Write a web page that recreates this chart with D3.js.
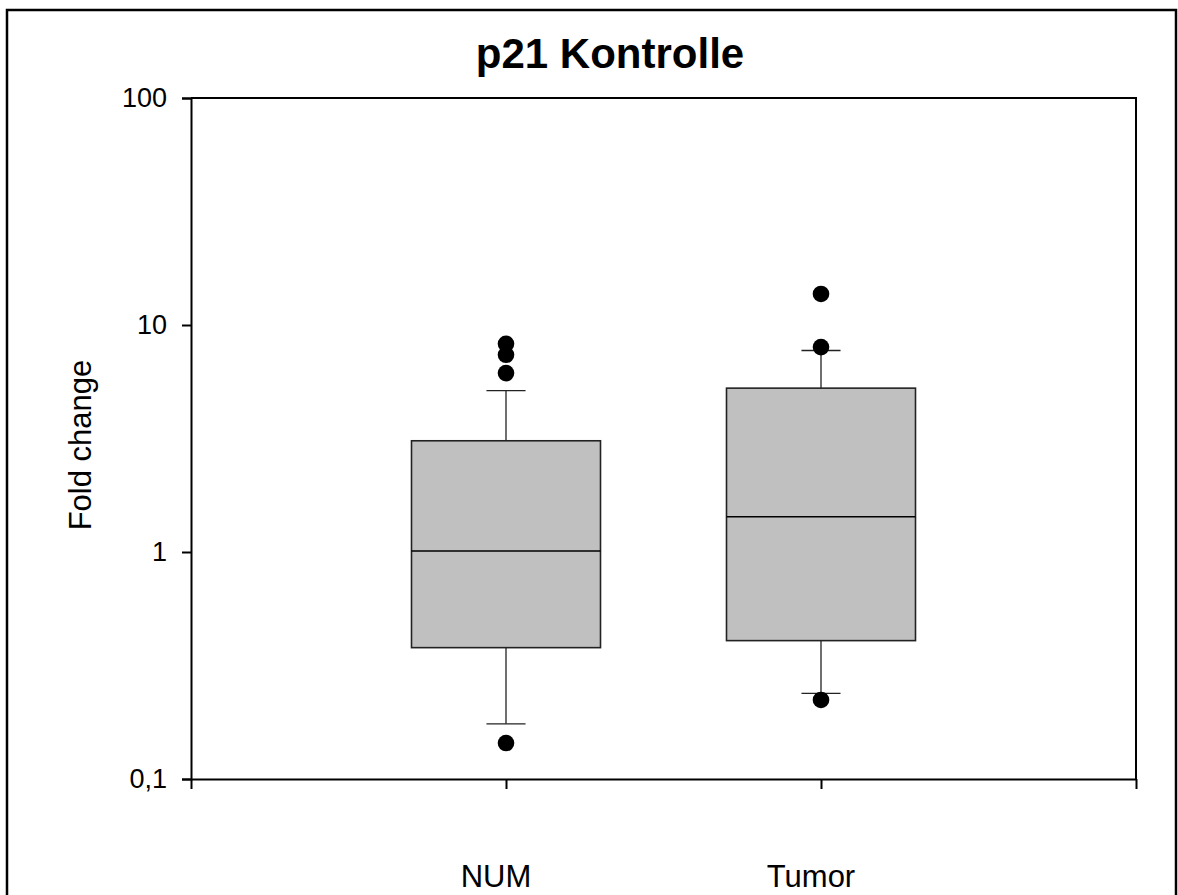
<!DOCTYPE html>
<html>
<head>
<meta charset="utf-8">
<script src="https://cdn.jsdelivr.net/npm/d3@7"></script>
<style>
  body { margin: 0; background: #fff; }
  svg { display: block; font-family: Arial, "Liberation Sans", sans-serif; }
</style>
</head>
<body>
<div id="chart"></div>
<script>
// Box plot data
const categories = ["NUM", "Tumor"];
const q1 = [0.379, 0.407];
const median = [1.01, 1.43];
const q3 = [3.09, 5.27];
const whiskerLow = [0.175, 0.2385];
const whiskerHigh = [5.14, 7.72];
const outliers = [[8.26, 7.39, 6.14, 0.144], [13.7, 7.99, 0.223]];
const yTicks = [0.1, 1, 10, 100];
const yTickLabels = ["0,1", "1", "10", "100"];

const width = 1178, height = 895;
const margin = { top: 98, right: 42, bottom: 116, left: 191 };

const svg = d3.select("#chart")
  .append("svg")
  .attr("width", width)
  .attr("height", height);

// outer frame
svg.append("rect")
  .attr("x", 7).attr("y", 10)
  .attr("width", 1169).attr("height", 900)
  .attr("fill", "none")
  .attr("stroke", "#000")
  .attr("stroke-width", 2.5);

// Scales
const x = d3.scaleLinear()
  .domain([0, categories.length + 1])
  .range([margin.left, width - margin.right]);

const y = d3.scaleLog()
  .domain([0.1, 100])
  .range([height - margin.bottom, margin.top]);

// plot frame (top + right)
svg.append("path")
  .attr("d", `M${x(0)},${y(100)}H${x(3)}V${y(0.1)}`)
  .attr("fill", "none")
  .attr("stroke", "#000")
  .attr("stroke-width", 2);

// Axes
const yAxis = svg.append("g")
  .attr("transform", `translate(${margin.left},0)`)
  .call(d3.axisLeft(y)
    .tickValues(yTicks)
    .tickFormat((d, i) => yTickLabels[i])
    .tickSize(9)
    .tickPadding(15));

const xAxis = svg.append("g")
  .attr("transform", `translate(0,${height - margin.bottom})`)
  .call(d3.axisBottom(x)
    .tickValues(d3.range(categories.length + 2))
    .tickFormat("")
    .tickSize(10)
    .tickSizeOuter(0));

[yAxis, xAxis].forEach(g => {
  g.select(".domain").attr("stroke-width", 2);
  g.selectAll(".tick line").attr("stroke-width", 2);
});
yAxis.selectAll(".tick text")
  .attr("font-size", 27)
  .attr("font-family", "Arial, 'Liberation Sans', sans-serif")
  .attr("fill", "#000");

// Category labels
svg.selectAll(".cat")
  .data(categories)
  .enter()
  .append("text")
  .attr("class", "cat")
  .attr("x", (d, i) => x(i + 1) - 10)
  .attr("y", 887)
  .attr("text-anchor", "middle")
  .attr("font-size", 31)
  .text(d => d);

// Boxes
const boxW = x(0.6) - x(0);
const capW = x(0.124) - x(0);

const groups = svg.selectAll(".box")
  .data(categories)
  .enter()
  .append("g")
  .attr("class", "box");

// whiskers
groups.append("line")
  .attr("x1", (d, i) => x(i + 1)).attr("x2", (d, i) => x(i + 1))
  .attr("y1", (d, i) => y(whiskerLow[i]))
  .attr("y2", (d, i) => y(whiskerHigh[i]))
  .attr("stroke", "#222").attr("stroke-width", 1.3);

groups.selectAll(".cap")
  .data((d, i) => [{ i, v: whiskerLow[i] }, { i, v: whiskerHigh[i] }])
  .enter()
  .append("line")
  .attr("x1", d => x(d.i + 1) - capW / 2)
  .attr("x2", d => x(d.i + 1) + capW / 2)
  .attr("y1", d => y(d.v)).attr("y2", d => y(d.v))
  .attr("stroke", "#222").attr("stroke-width", 1.3);

groups.append("rect")
  .attr("x", (d, i) => x(i + 1) - boxW / 2)
  .attr("width", boxW)
  .attr("y", (d, i) => y(q3[i]))
  .attr("height", (d, i) => y(q1[i]) - y(q3[i]))
  .attr("fill", "#c0c0c0")
  .attr("stroke", "#222")
  .attr("stroke-width", 1.6);

groups.append("line")
  .attr("x1", (d, i) => x(i + 1) - boxW / 2)
  .attr("x2", (d, i) => x(i + 1) + boxW / 2)
  .attr("y1", (d, i) => y(median[i]))
  .attr("y2", (d, i) => y(median[i]))
  .attr("stroke", "#000").attr("stroke-width", 1.3);

// Outliers
groups.selectAll(".out")
  .data((d, i) => outliers[i].map(v => ({ i, v })))
  .enter()
  .append("circle")
  .attr("cx", d => x(d.i + 1))
  .attr("cy", d => y(d.v))
  .attr("r", 8.3)
  .attr("fill", "#000");

// Labels
svg.append("text")
  .attr("x", 610)
  .attr("y", 68)
  .attr("text-anchor", "middle")
  .attr("font-size", 42)
  .attr("font-weight", "bold")
  .text("p21 Kontrolle");

svg.append("text")
  .attr("transform", "rotate(-90)")
  .attr("x", -445)
  .attr("y", 91)
  .attr("text-anchor", "middle")
  .attr("font-size", 31)
  .text("Fold change");
</script>
</body>
</html>
